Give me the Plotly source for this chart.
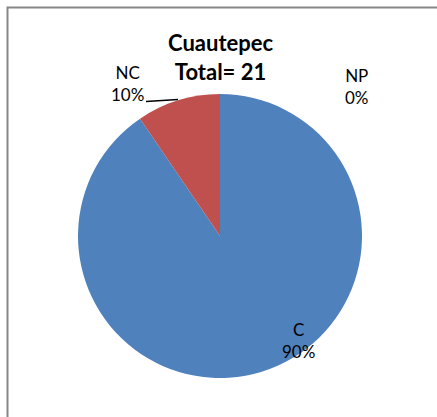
import plotly.graph_objects as go

categories = ["C", "NC", "NP"]
values = [19, 2, 0]
pct_labels = ["90%", "10%", "0%"]
colors = ["#4F81BD", "#C0504D", "#9BBB59"]
title_lines = ["Cuautepec", "Total= 21"]

W, H = 437, 417
cx, cy, r = 220, 236, 142

fig = go.Figure(go.Pie(
    labels=categories,
    values=values,
    sort=False,
    direction="clockwise",
    rotation=0,
    marker=dict(colors=colors, line=dict(width=0)),
    textinfo="none",
    hoverinfo="skip",
    showlegend=False,
    domain=dict(x=[(cx - r) / W, (cx + r) / W], y=[1 - (cy + r) / H, 1 - (cy - r) / H]),
))

font = dict(family="Lato, Carlito, Calibri, sans-serif", size=17, color="#000000")
label_pos = {"C": (298, 340), "NC": (127, 84), "NP": (357, 86)}
annotations = []
for cat, p in zip(categories, pct_labels):
    x, y = label_pos[cat]
    annotations.append(dict(
        x=x / W, y=1 - y / H, xref="paper", yref="paper",
        text=f"{cat}<br>{p}", showarrow=False, font=font,
        xanchor="center", yanchor="middle", align="center",
    ))
annotations.append(dict(
    x=cx / W, y=1 - 57 / H, xref="paper", yref="paper",
    text=f"<b>{title_lines[0]}</b><br><b>{title_lines[1]}</b>", showarrow=False,
    font=dict(family="Lato, Carlito, Calibri, sans-serif", size=22, color="#000000"),
    xanchor="center", yanchor="middle", align="center",
))

shapes = [
    dict(type="rect", xref="paper", yref="paper",
         x0=7.5 / W, x1=1.1, y0=-0.1, y1=1 - 7.5 / H,
         line=dict(color="#878787", width=2), fillcolor="rgba(0,0,0,0)"),
    dict(type="line", xref="paper", yref="paper",
         x0=146 / W, x1=178 / W, y0=1 - 101.5 / H, y1=1 - 99.5 / H,
         line=dict(color="#000000", width=1.3)),
]

fig.update_layout(
    width=W, height=H,
    margin=dict(l=0, r=0, t=0, b=0),
    paper_bgcolor="white", plot_bgcolor="white",
    annotations=annotations, shapes=shapes,
)

fig.write_html("out.html", config={"displayModeBar": False},
               post_script="document.body.style.margin='0';")
